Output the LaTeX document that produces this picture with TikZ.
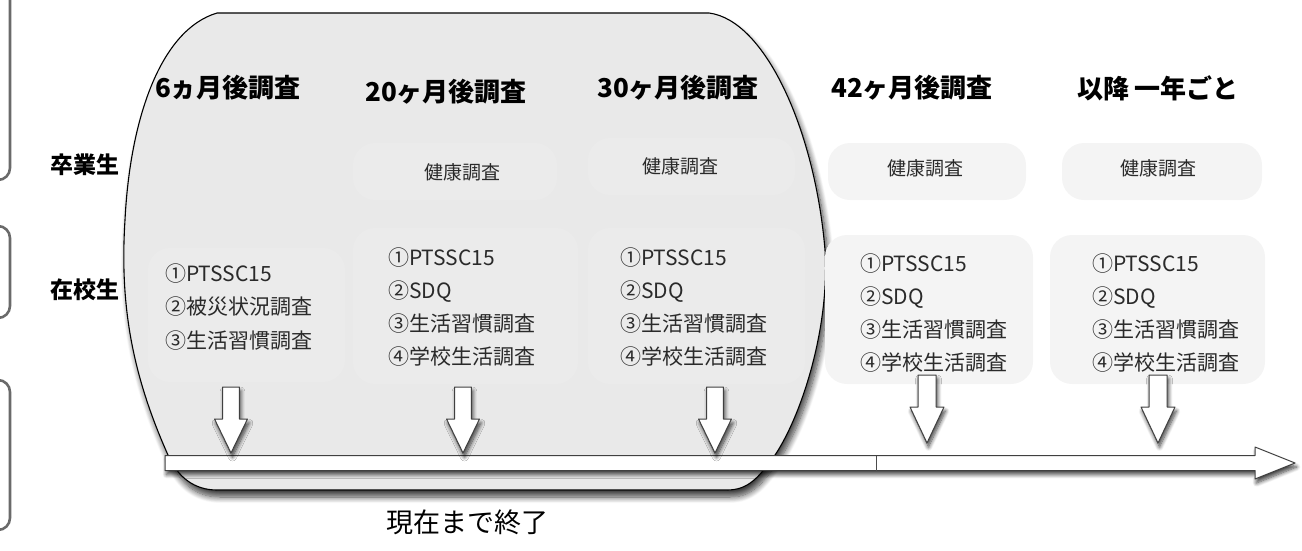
\documentclass[tikz,border=0pt]{standalone}
\usepackage{fontspec}
\newfontfamily\jp{Noto Sans CJK JP}
\usetikzlibrary{shadows.blur}
\definecolor{blobfill}{HTML}{E9E9E9}
\definecolor{inbox}{HTML}{EBEBEB}
\definecolor{outbox}{HTML}{F4F4F4}
\definecolor{txt}{HTML}{2A2A2A}
\definecolor{frame}{HTML}{6A6A6A}
\tikzset{
  header/.style={font=\jp\bfseries\fontsize{26}{30}\selectfont, text=black, inner sep=0pt},
  sidelabel/.style={font=\jp\bfseries\fontsize{23}{26}\selectfont, text=black, inner sep=0pt},
  health/.style={font=\jp\fontsize{19}{22}\selectfont, text=txt, inner sep=0pt},
  listtxt/.style={font=\jp\fontsize{21}{33.3}\selectfont, text=txt, inner sep=0pt, align=left, anchor=west},
  inboxstyle/.style={fill=inbox, rounded corners=22pt, draw=none},
  outboxstyle/.style={fill=outbox, rounded corners=22pt, draw=none},
  sideframe/.style={draw=frame, line width=2.6pt, rounded corners=12pt},
  blockarrow/.style={draw=black!75, fill=white, line width=1pt, line join=round,
     blur shadow={shadow xshift=1.5pt, shadow yshift=-4pt, shadow blur steps=8, shadow blur radius=4pt, shadow opacity=75}},
  downarrA/.pic={\path[blockarrow] (-8.3,0) -- (8.3,0) -- (8.3,32) -- (16.5,32) -- (0,66) -- (-16.5,32) -- (-8.3,32) -- cycle;},
  downarrB/.pic={\path[blockarrow] (-9,0) -- (9,0) -- (9,32) -- (17,32) -- (0,68) -- (-17,32) -- (-9,32) -- cycle;},
}
\begin{document}
\begin{tikzpicture}[x=1pt,y=-1pt]
\useasboundingbox (0,0) rectangle (1302,550);
% left frames
\draw[sideframe] (-40,-30) rectangle (10,180);
\draw[sideframe] (-40,226) rectangle (10,318);
\draw[sideframe] (-40,380) rectangle (10,530);
\node[sidelabel] (sotsu) at (85,165) {卒業生};
\node[sidelabel] (zai) at (85,290) {在校生};
% big blob
\path[fill=blobfill, draw=black, line width=1.1pt,
  blur shadow={shadow xshift=3pt, shadow yshift=-7pt, shadow blur steps=10, shadow blur radius=6pt, shadow opacity=75}]
  (217,13) -- (709,13) .. controls (765,20) and (815,130) .. (825,250)
  .. controls (830,330) and (800,420) .. (773,458)
  .. controls (758,478) and (748,490) .. (727,490) -- (217,490)
  .. controls (195,490) and (178,478) .. (168,455)
  .. controls (130,370) and (120,300) .. (125,220)
  .. controls (130,120) and (160,30) .. (217,13) -- cycle;
% boxes inside blob
\path[inboxstyle] (148,248) rectangle (345,382);
\path[inboxstyle] (353,143) rectangle (557,200);
\path[inboxstyle] (353,228) rectangle (578,384);
\path[inboxstyle] (588,138) rectangle (795,195);
\path[inboxstyle] (588,228) rectangle (805,384);
% boxes outside blob
\path[outboxstyle] (828,143) rectangle (1026,200);
\path[outboxstyle] (1062,143) rectangle (1262,200);
\path[outboxstyle] (825,235) rectangle (1033,384);
\path[outboxstyle] (1050,235) rectangle (1265,384);
% headers
\node[header] (h1) at (228,88) {6ヵ月後調査};
\node[header] (h2) at (446,92) {20ヶ月後調査};
\node[header] (h3) at (678,88) {30ヶ月後調査};
\node[header] (h4) at (912,88) {42ヶ月後調査};
\node[header] (h5) at (1158,88) {以降 一年ごと};
% health
\node[health] (k2) at (462,172) {健康調査};
\node[health] (k3) at (680,166) {健康調査};
\node[health] (k4) at (925,168) {健康調査};
\node[health] (k5) at (1158,168) {健康調査};
% lists
\node[listtxt] (l1) at (165,307) {①PTSSC15\\②被災状況調査\\③生活習慣調査};
\node[listtxt] (l2) at (388,307) {①PTSSC15\\②SDQ\\③生活習慣調査\\④学校生活調査};
\node[listtxt] (l3) at (620,307) {①PTSSC15\\②SDQ\\③生活習慣調査\\④学校生活調査};
\node[listtxt] (l4) at (860,313) {①PTSSC15\\②SDQ\\③生活習慣調査\\④学校生活調査};
\node[listtxt] (l5) at (1092,313) {①PTSSC15\\②SDQ\\③生活習慣調査\\④学校生活調査};
% timeline
\path[blockarrow] (165,455.5) -- (1255,455.5) -- (1255,447) -- (1295,463) -- (1255,479) -- (1255,470.5) -- (165,470.5) -- cycle;
\coordinate (divtop) at (876,455.5);
\coordinate (divbot) at (876,470.5);
\draw[black!70, line width=0.8pt] (divtop) -- (divbot);
% down arrows
\pic at (231,387) {downarrA};
\pic at (463,387) {downarrA};
\pic at (715,387) {downarrA};
\pic at (927,375) {downarrB};
\pic at (1158,375) {downarrB};
% caption
\node[font=\jp\fontsize{27}{30}\selectfont, text=black, inner sep=0pt] (done) at (467,522) {現在まで終了};
\end{tikzpicture}
\end{document}
